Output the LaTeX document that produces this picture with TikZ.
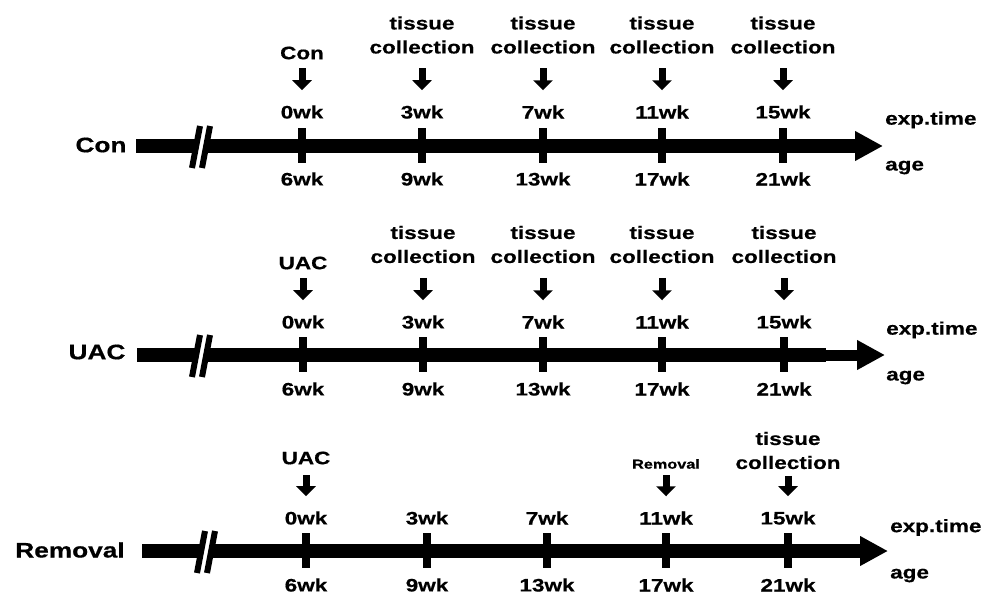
\documentclass[tikz,border=0pt]{standalone}
\usepackage{fontspec}
\setmainfont{Liberation Sans}[FakeStretch=1.25, BoldFeatures={FakeBold=0.6}]
\usepackage{tikz}
\usetikzlibrary{arrows.meta}

\begin{document}
\begin{tikzpicture}[
    x=1pt, y=-1pt,
    grp/.style={font=\fontsize{21}{24}\selectfont\bfseries, inner sep=0pt},
    wk/.style={font=\fontsize{18}{24}\selectfont\bfseries, inner sep=0pt},
    ev/.style={wk, align=center},
    small/.style={font=\fontsize{13}{15}\selectfont\bfseries, inner sep=0pt},
    axis/.style={line width=14pt},
    axisarrow/.style={line width=14pt, -{Triangle[width=28pt, length=28pt]}},
    tick/.style={line width=8pt},
    brk/.style={line width=6pt},
    evarrow/.style={line width=7pt, -{Triangle[width=19pt, length=10pt]}, shorten >=15pt}
]
    \useasboundingbox (0,0) rectangle (987,597);

    % Con
    \node[grp] (con) at (101,145) {Con};
    \coordinate (conS) at (136,146);
    \coordinate (conB1) at (196,146);
    \coordinate (conB2) at (206,146);
    \coordinate (conE) at (883,146);
    \draw[axis] (conS) -- (conB1);
    \draw[axisarrow] (conB2) -- (conE);
    \draw[brk] (192,168) -- (200,126) (202,168) -- (210,126);
    \foreach \x/\wk/\ag/\n in {302/0/6/a, 422/3/9/b, 543/7/13/c, 662/11/17/d, 783/15/21/e}{
        \draw[tick] (\x,128) -- (\x,163);
        \node[wk] (con\n) at (\x,112) {\wk wk};
        \node[wk] (conage\n) at (\x,179) {\ag wk};
    }
    \node[wk, anchor=west] (conexp) at (885,120) {exp.time};
    \node[wk, anchor=west] (conagel) at (885,167.5) {age};

    % Con : evenements
    \node[wk] (conev) at (302,53) {Con};
    \node[ev] (contcb) at (422,35) {tissue\\collection};
    \node[ev] (contcc) at (543,35) {tissue\\collection};
    \node[ev] (contcd) at (662,35) {tissue\\collection};
    \node[ev] (contce) at (783,35) {tissue\\collection};
    \draw[evarrow, shorten <=8.5pt] (conev) -- (cona);
    \draw[evarrow, shorten <=14.5pt] (contcb) -- (conb);
    \draw[evarrow, shorten <=14.5pt] (contcc) -- (conc);
    \draw[evarrow, shorten <=14.5pt] (contcd) -- (cond);
    \draw[evarrow, shorten <=14.5pt] (contce) -- (cone);

    % UAC
    \node[grp] (uac) at (97,352) {UAC};
    \coordinate (uacS) at (137,355);
    \coordinate (uacB1) at (196,355);
    \coordinate (uacB2) at (206,355);
    \coordinate (uacM) at (826,355);
    \coordinate (uacE) at (885,355);
    \draw[axis] (uacS) -- (uacB1);
    \draw[axis] (uacB2) -- (uacM);
    \draw[axisarrow, line width=11pt] (uacM) -- (uacE);
    \draw[brk] (192,377) -- (200,335) (202,377) -- (210,335);
    \foreach \x/\wk/\ag/\n in {303/0/6/a, 423/3/9/b, 543/7/13/c, 662/11/17/d, 784/15/21/e}{
        \draw[tick] (\x,337) -- (\x,372);
        \node[wk] (uac\n) at (\x,322) {\wk wk};
        \node[wk] (uacage\n) at (\x,389) {\ag wk};
    }
    \node[wk, anchor=west] (uacexp) at (886,330) {exp.time};
    \node[wk, anchor=west] (uacagel) at (886,377.5) {age};

    % UAC : evenements
    \node[wk] (uacev) at (303,263) {UAC};
    \node[ev] (uactcb) at (423,244.5) {tissue\\collection};
    \node[ev] (uactcc) at (543,244.5) {tissue\\collection};
    \node[ev] (uactcd) at (662,244.5) {tissue\\collection};
    \node[ev] (uactce) at (784,244.5) {tissue\\collection};
    \draw[evarrow, shorten <=8.5pt] (uacev) -- (uaca);
    \draw[evarrow, shorten <=14.5pt] (uactcb) -- (uacb);
    \draw[evarrow, shorten <=14.5pt] (uactcc) -- (uacc);
    \draw[evarrow, shorten <=14.5pt] (uactcd) -- (uacd);
    \draw[evarrow, shorten <=14.5pt] (uactce) -- (uace);

    % Removal
    \node[grp] (rem) at (70,550) {Removal};
    \coordinate (remS) at (142,551);
    \coordinate (remB1) at (201,551);
    \coordinate (remB2) at (211,551);
    \coordinate (remE) at (888,551);
    \draw[axis] (remS) -- (remB1);
    \draw[axisarrow] (remB2) -- (remE);
    \draw[brk] (197,573) -- (205,531) (207,573) -- (215,531);
    \foreach \x/\wk/\ag/\n in {306/0/6/a, 427/3/9/b, 547/7/13/c, 666/11/17/d, 788/15/21/e}{
        \draw[tick] (\x,533) -- (\x,568);
        \node[wk] (rem\n) at (\x,518) {\wk wk};
        \node[wk] (remage\n) at (\x,585) {\ag wk};
    }
    \node[wk, anchor=west] (remexp) at (890,527.5) {exp.time};
    \node[wk, anchor=west] (remagel) at (890,575.5) {age};

    % Removal : evenements
    \node[wk] (remev) at (306,458) {UAC};
    \node[small] (remrm) at (666,464) {Removal};
    \node[ev] (remtce) at (788,450.5) {tissue\\collection};
    \draw[evarrow, shorten <=10.5pt] (remev) -- (rema);
    \draw[evarrow, shorten <=6.3pt] (remrm) -- (remd);
    \draw[evarrow, shorten <=6.5pt] (remtce) -- (reme);
\end{tikzpicture}
\end{document}
